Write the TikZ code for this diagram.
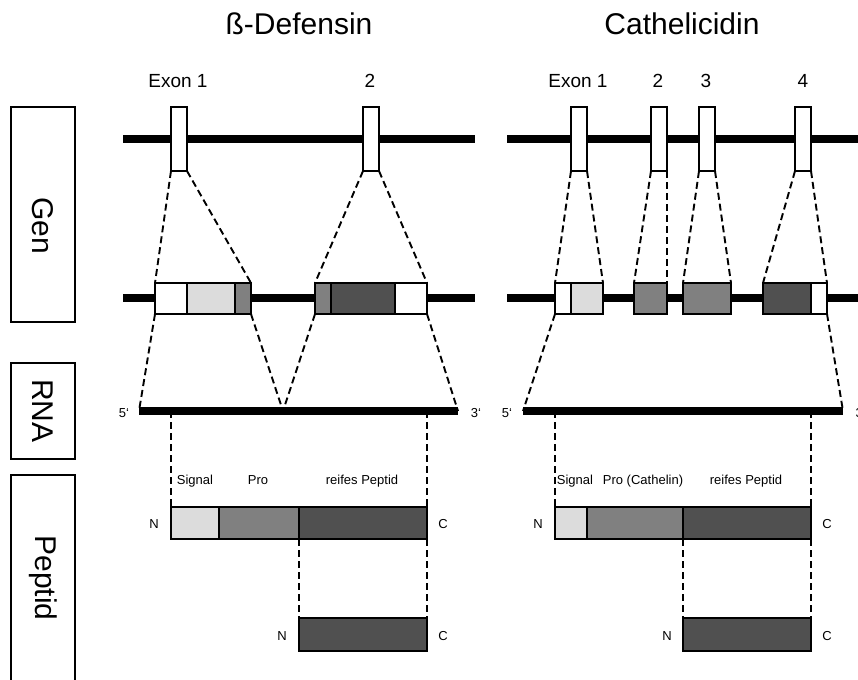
\documentclass[tikz,border=0pt]{standalone}
\usepackage{fontspec}
\setmainfont{Liberation Sans}
\usetikzlibrary{fit}
\definecolor{signalgray}{HTML}{DCDCDC}
\definecolor{progray}{HTML}{808080}
\definecolor{peptgray}{HTML}{505050}
\tikzset{
  strand/.style={line width=8pt},
  seg/.style={draw, line width=1.8pt, inner sep=0pt, outer sep=0pt},
  link/.style={line width=1.9pt, dash pattern=on 7pt off 4pt},
  side/.style={draw, line width=1.8pt, inner sep=0pt, rotate=-90,
    font=\fontsize{30}{36}\selectfont},
  title/.style={anchor=base, font=\fontsize{30}{36}\selectfont},
  exonlab/.style={anchor=base, font=\fontsize{19}{23}\selectfont},
  small/.style={anchor=base, font=\fontsize{13}{15}\selectfont}
}
\begin{document}
\begin{tikzpicture}[x=1pt, y=-1pt]
	\clip (0,0) rectangle (858,679);

	% Side labels
	\node [side, minimum width=215pt, minimum height=64pt] (gen) at (43,214.5) {\hspace*{23pt}Gen};
	\node [side, minimum width=96pt, minimum height=64pt] (rna) at (43,411) {RNA};
	\node [side, minimum width=206pt, minimum height=64pt] (pep) at (43,578) {Peptid};

	% Titles and exon numbers
	\node [title] (bdtitle) at (299,35) {ß-Defensin};
	\node [title] (ctitle) at (682,35) {Cathelicidin};
	\node [exonlab] (bdl1) at (178,88) {Exon 1};
	\node [exonlab] (bdl2) at (370,88) {2};
	\node [exonlab] (cl1) at (578,88) {Exon 1};
	\node [exonlab] (cl2) at (658,88) {2};
	\node [exonlab] (cl3) at (706,88) {3};
	\node [exonlab] (cl4) at (803,88) {4};

	% RNA ends
	\coordinate (bdrna5) at (139,411);
	\coordinate (bdsplice) at (283,411);
	\coordinate (bdrna3) at (458,411);
	\coordinate (crna5) at (523,411);
	\coordinate (crna3) at (843,411);

	% Gene strands
	\draw [strand] (123,139) -- (475,139);
	\draw [strand] (507,139) -- (858,139);
	\draw [strand] (123,298) -- (475,298);
	\draw [strand] (507,298) -- (858,298);

	% Exons on the gene
	\node [seg, fill=white, fit={(171,107) (187,171)}] (bdx1) {};
	\node [seg, fill=white, fit={(363,107) (379,171)}] (bdx2) {};
	\node [seg, fill=white, fit={(571,107) (587,171)}] (cx1) {};
	\node [seg, fill=white, fit={(651,107) (667,171)}] (cx2) {};
	\node [seg, fill=white, fit={(699,107) (715,171)}] (cx3) {};
	\node [seg, fill=white, fit={(795,107) (811,171)}] (cx4) {};

	% Exons enlarged
	\node [seg, fill=white, fit={(155,283) (187,314)}] (bd1w) {};
	\node [seg, fill=signalgray, fit={(187,283) (235,314)}] (bd1s) {};
	\node [seg, fill=progray, fit={(235,283) (251,314)}] (bd1p) {};
	\node [seg, fill=progray, fit={(315,283) (331,314)}] (bd2p) {};
	\node [seg, fill=peptgray, fit={(331,283) (395,314)}] (bd2m) {};
	\node [seg, fill=white, fit={(395,283) (427,314)}] (bd2w) {};
	\node [seg, fill=white, fit={(555,283) (571,314)}] (c1w) {};
	\node [seg, fill=signalgray, fit={(571,283) (603,314)}] (c1s) {};
	\node [seg, fill=progray, fit={(634,283) (667,314)}] (c2p) {};
	\node [seg, fill=progray, fit={(683,283) (731,314)}] (c3p) {};
	\node [seg, fill=peptgray, fit={(763,283) (811,314)}] (c4m) {};
	\node [seg, fill=white, fit={(811,283) (827,314)}] (c4w) {};

	% Peptides
	\node [seg, fill=signalgray, fit={(171,507) (219,539)}] (bdsig) {};
	\node [seg, fill=progray, fit={(219,507) (299,539)}] (bdpro) {};
	\node [seg, fill=peptgray, fit={(299,507) (427,539)}] (bdmat) {};
	\node [seg, fill=peptgray, fit={(299,618) (427,651)}] (bdfree) {};
	\node [seg, fill=signalgray, fit={(555,507) (587,539)}] (csig) {};
	\node [seg, fill=progray, fit={(587,507) (683,539)}] (cpro) {};
	\node [seg, fill=peptgray, fit={(683,507) (811,539)}] (cmat) {};
	\node [seg, fill=peptgray, fit={(683,618) (811,651)}] (cfree) {};

	% Dashed links gene -> enlarged exons
	\draw [link] (bdx1.south west) -- (bd1w.north west);
	\draw [link] (bdx1.south east) -- (bd1p.north east);
	\draw [link] (bdx2.south west) -- (bd2p.north west);
	\draw [link] (bdx2.south east) -- (bd2w.north east);
	\draw [link] (cx1.south west) -- (c1w.north west);
	\draw [link] (cx1.south east) -- (c1s.north east);
	\draw [link] (cx2.south west) -- (c2p.north west);
	\draw [link] (cx2.south east) -- (c2p.north east);
	\draw [link] (cx3.south west) -- (c3p.north west);
	\draw [link] (cx3.south east) -- (c3p.north east);
	\draw [link] (cx4.south west) -- (c4m.north west);
	\draw [link] (cx4.south east) -- (c4w.north east);

	% Dashed links enlarged exons -> RNA
	\draw [link] (bd1w.south west) -- (bdrna5);
	\draw [link] (bd1p.south east) -- (bdsplice);
	\draw [link] (bd2p.south west) -- (bdsplice);
	\draw [link] (bd2w.south east) -- (bdrna3);
	\draw [link] (c1w.south west) -- (crna5);
	\draw [link] (c4w.south east) -- (crna3);

	% Dashed links RNA -> peptides
	\draw [link] (bdsig.north west |- bdrna5) -- (bdsig.north west);
	\draw [link] (bdmat.north east |- bdrna5) -- (bdmat.north east);
	\draw [link] (bdmat.south west) -- (bdfree.north west);
	\draw [link] (bdmat.south east) -- (bdfree.north east);
	\draw [link] (csig.north west |- crna5) -- (csig.north west);
	\draw [link] (cmat.north east |- crna5) -- (cmat.north east);
	\draw [link] (cmat.south west) -- (cfree.north west);
	\draw [link] (cmat.south east) -- (cfree.north east);

	% RNA strands
	\draw [strand] (bdrna5) -- (bdrna3);
	\draw [strand] (crna5) -- (crna3);
	\node [small] (bd5) at (124,417) {5‘};
	\node [small] (bd3) at (476,417) {3‘};
	\node [small] (c5) at (507,417) {5‘};
	\node [small, anchor=base west] (c3) at (852,417) {3‘};

	% Peptide labels
	\node [small] (bdsigl) at (195,484) {Signal};
	\node [small] (bdprol) at (258,484) {Pro};
	\node [small] (bdmatl) at (362,484) {reifes Peptid};
	\node [small] (csigl) at (575,484) {Signal};
	\node [small] (cprol) at (643,484) {Pro (Cathelin)};
	\node [small] (cmatl) at (746,484) {reifes Peptid};
	\node [small] (bdn1) at (154,528) {N};
	\node [small] (bdc1) at (443,528) {C};
	\node [small] (bdn2) at (282,640) {N};
	\node [small] (bdc2) at (443,640) {C};
	\node [small] (cn1) at (538,528) {N};
	\node [small] (cc1) at (827,528) {C};
	\node [small] (cn2) at (667,640) {N};
	\node [small] (cc2) at (827,640) {C};

\end{tikzpicture}
\end{document}
